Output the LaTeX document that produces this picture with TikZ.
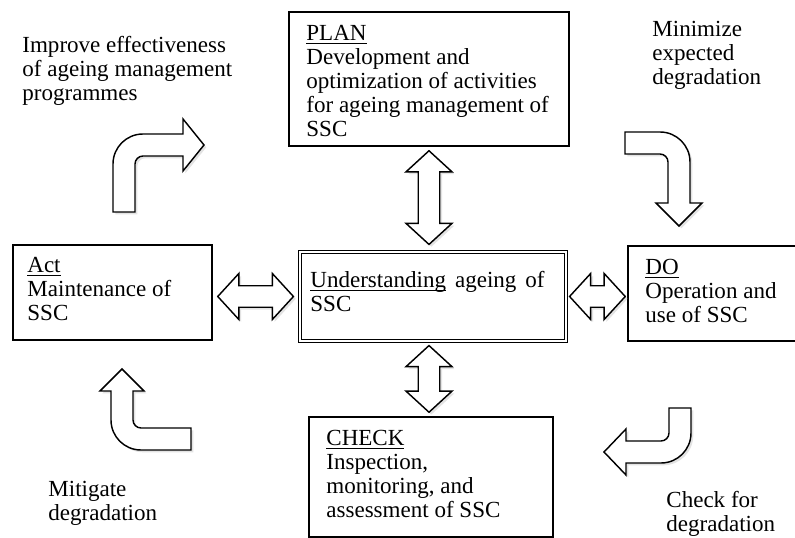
\documentclass[tikz,border=0pt]{standalone}
\usepackage{fontspec}
\setmainfont{Liberation Serif}
\usetikzlibrary{calc, fit, shadows}

\newcommand{\headlen}{11pt}
\newcommand{\headw}{12pt}
\newcommand{\shaftw}{5.6pt}
\newcommand{\ulined}[1]{\setbox0=\hbox{#1}\rlap{\rule[-1.9pt]{\wd0}{0.6pt}}\box0\relax}

% straight block arrow with two heads, left to right
\newcommand{\hbiarrow}[2]{%
  \draw[blockarrow] let \p1=#1, \p2=#2 in
    (\x1,\y1) -- (\x1+\headlen,\y1+\headw) -- (\x1+\headlen,\y1+\shaftw)
    -- (\x2-\headlen,\y1+\shaftw) -- (\x2-\headlen,\y1+\headw) -- (\x2,\y1)
    -- (\x2-\headlen,\y1-\headw) -- (\x2-\headlen,\y1-\shaftw)
    -- (\x1+\headlen,\y1-\shaftw) -- (\x1+\headlen,\y1-\headw) -- cycle;}
% same, top to bottom
\newcommand{\vbiarrow}[2]{%
  \draw[blockarrow] let \p1=#1, \p2=#2 in
    (\x1,\y1) -- (\x1+\headw,\y1-\headlen) -- (\x1+\shaftw,\y1-\headlen)
    -- (\x1+\shaftw,\y2+\headlen) -- (\x1+\headw,\y2+\headlen) -- (\x1,\y2)
    -- (\x1-\headw,\y2+\headlen) -- (\x1-\shaftw,\y2+\headlen)
    -- (\x1-\shaftw,\y1-\headlen) -- (\x1-\headw,\y1-\headlen) -- cycle;}

\tikzset{
  frame/.style={draw, line width=0.8pt, inner sep=0pt},
  txt/.style={anchor=north west, inner sep=0pt, align=left,
    font=\fontsize{12}{12.5}\selectfont},
  blockarrow/.style={draw, line width=0.75pt, fill=white, line join=miter,
    drop shadow={shadow xshift=1.2pt, shadow yshift=-1.2pt, fill=black!22}},
}

\begin{document}
\begin{tikzpicture}[x=0.5208pt, y=-0.5208pt]
  \useasboundingbox (0,0) rectangle (795,538);

  % the five boxes
  \node[frame, fit={(289,12) (569,146)}] (plan) {};
  \node[frame, fit={(13,245) (212,340)}] (act) {};
  \node[frame, double, double distance=1.3pt, line width=0.6pt,
        fit={(300,252) (566,341)}] (core) {};
  \node[frame, fit={(628,246) (805,341)}] (do) {};
  \node[frame, fit={(309,417) (553,537)}] (check) {};

  \node[txt] (plantxt) at (306,24.5)
    {\ulined{PLAN}\\Development and\\optimization of activities\\for ageing management of\\SSC};
  \node[txt] (acttxt) at (27,256.5) {\ulined{Act}\\Maintenance of\\SSC};
  \node[txt] (coretxt) at (310,270.5)
    {\makebox[122pt][s]{\ulined{Understanding} ageing of}\\SSC};
  \node[txt] (dotxt) at (645,259) {\ulined{DO}\\Operation and\\use of SSC};
  \node[txt] (checktxt) at (326,429.5)
    {\ulined{CHECK}\\Inspection,\\monitoring, and\\assessment of SSC};

  % outer labels
  \node[txt] (improve) at (22,35.5) {Improve effectiveness\\of ageing management\\programmes};
  \node[txt] (minimize) at (652,21) {Minimize\\expected\\degradation};
  \node[txt] (mitigate) at (48,480.5) {Mitigate\\degradation};
  \node[txt] (checkfor) at (666,490.5) {Check for\\degradation};

  % links to the centre
  \hbiarrow{($(act.east |- core.west)+(5,0)$)}{($(core.west)+(-6,0)$)}
  \hbiarrow{($(core.east)+(3,0)$)}{($(do.west |- core.east)+(-2,0)$)}
  \vbiarrow{($(plan.south)+(0,4)$)}{($(core.north -| plan.south)+(0,-7)$)}
  \vbiarrow{($(core.south -| plan.south)+(0,4)$)}{($(check.north -| plan.south)+(0,-4)$)}

  % bent arrows round the cycle
  \draw[blockarrow] (113,212) -- (113,164) .. controls (113,147.4) and (126.4,134) .. (143,134)
    -- (183,134) -- (183,119) -- (204,145) -- (183,171) -- (183,156) -- (143,156)
    .. controls (138.6,156) and (135,159.6) .. (135,164) -- (135,212) -- cycle;
  \draw[blockarrow] (625,132) -- (660,132) .. controls (676.6,132) and (690,145.4) .. (690,162)
    -- (690,203) -- (702,203) -- (679,226) -- (656,203) -- (668,203) -- (668,162)
    .. controls (668,157.6) and (664.4,154) .. (660,154) -- (625,154) -- cycle;
  \draw[blockarrow] (691,408) -- (691,433) .. controls (691,449.6) and (677.6,463) .. (661,463)
    -- (626,463) -- (626,475) -- (604,452) -- (626,429) -- (626,441) -- (661,441)
    .. controls (665.4,441) and (669,437.4) .. (669,433) -- (669,408) -- cycle;
  \draw[blockarrow] (122,369) -- (144,391) -- (133,391) -- (133,420)
    .. controls (133,424.4) and (136.6,428) .. (141,428) -- (191,428) -- (191,450)
    -- (141,450) .. controls (124.4,450) and (111,436.6) .. (111,420)
    -- (111,391) -- (100,391) -- cycle;
\end{tikzpicture}
\end{document}
